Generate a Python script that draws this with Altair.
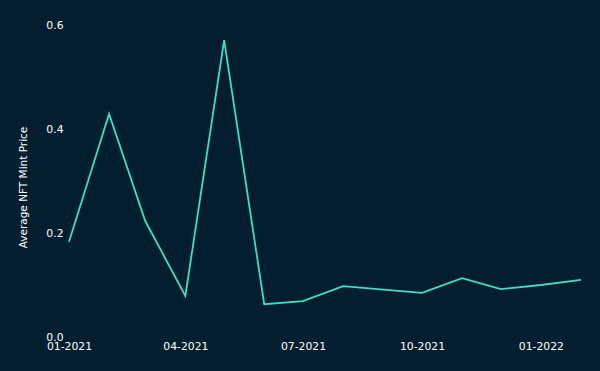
import altair as alt
import pandas as pd

months = ["2021-01-01", "2021-02-01", "2021-03-01", "2021-04-01", "2021-05-01",
          "2021-06-01", "2021-07-01", "2021-08-01", "2021-09-01", "2021-10-01",
          "2021-11-01", "2021-12-01", "2022-01-01", "2022-02-01"]
avg_price = [0.183, 0.429, 0.223, 0.079, 0.571, 0.063, 0.069, 0.098, 0.091,
             0.085, 0.113, 0.092, 0.100, 0.110]
tick_dates = ["2021-01-01T00:00:00", "2021-04-01T00:00:00", "2021-07-01T00:00:00",
              "2021-10-01T00:00:00", "2022-01-01T00:00:00"]
y_ticks = [0.0, 0.2, 0.4, 0.6]

df = pd.DataFrame({"month": [m + "T00:00:00" for m in months], "price": avg_price})

bg = "#031f2f"

chart = (
    alt.Chart(df)
    .mark_line(color="#3fdcc6", strokeWidth=1.8)
    .encode(
        x=alt.X(
            "month:T",
            title=None,
            scale=alt.Scale(domain=[df["month"].iloc[0], df["month"].iloc[-1]]),
            axis=alt.Axis(values=tick_dates, format="%m-%Y", labelAlign="center",
                          labelBaseline="top", labelPadding=3),
        ),
        y=alt.Y(
            "price:Q",
            title="Average NFT Mint Price",
            scale=alt.Scale(domain=[0, 0.6], nice=False),
            axis=alt.Axis(values=y_ticks, format=".1f", labelPadding=6,
                          titlePadding=17, titleY=162),
        ),
    )
    .properties(width=512, height=312, background=bg,
                padding={"left": 69, "top": 25, "right": 19, "bottom": 34},
                autosize=alt.AutoSizeParams(type="none"))
    .configure_view(stroke=None, fill=bg)
    .configure_axis(
        domain=False, ticks=False, grid=False,
        labelColor="#ffffff", labelFont="DejaVu Sans", labelFontSize=10.8,
        titleColor="#ffffff", titleFont="DejaVu Sans", titleFontSize=10.5,
        titleFontWeight="normal",
    )
)

chart.save("out.html", embed_options={"renderer": "svg", "actions": False})
